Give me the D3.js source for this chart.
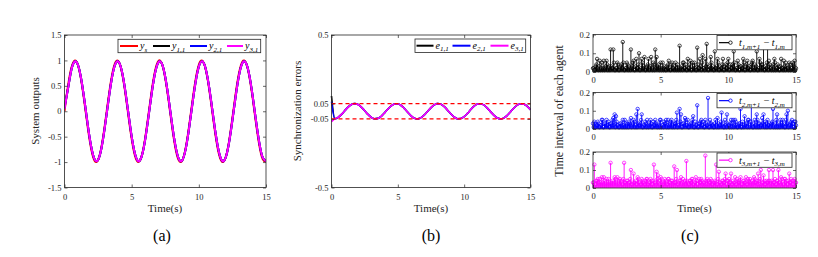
<!DOCTYPE html>
<html><head><meta charset="utf-8">
<script src="https://cdn.jsdelivr.net/npm/d3@7"></script>
<style>
body{margin:0;background:#fff}
svg{display:block}
text{font-family:"Liberation Serif","Times New Roman",serif}
</style>
</head><body>
<svg id="c" width="818" height="257"></svg>
<script>
// ---------- DATA ----------
const xTicks = [0, 5, 10, 15];
const yTicksA = [-1.5, -1, -0.5, 0, 0.5, 1, 1.5];
const yTicksB = [-0.5, -0.05, 0.05, 0.5];
const yTicksC = [0, 0.1, 0.2];
const panelLabels = ["(a)", "(b)", "(c)"];

// sample times for panels (a) and (b), every 0.25 s
const tA = d3.range(61).map(i => i * 0.25);

// (a) leader output y_s
const ys = [0, .479, .841, .997, .909, .598, .141, -.351, -.757, -.978, -.959, -.706,
  -.279, .215, .657, .938, .989, .798, .412, -.075, -.544, -.880, -1.000, -.875,
  -.537, -.066, .420, .804, .991, .935, .650, .207, -.288, -.712, -.961, -.976,
  -.751, -.342, .150, .606, .913, .996, .837, .471, -.009, -.487, -.846, -.998,
  -.906, -.591, -.132, .359, .763, .980, .956, .699, .271, -.224, -.664, -.941, -.988];
// (a) follower outputs
const y31 = [0.05, .430, .801, .976, .913, .625, .185, -.301, -.713, -.951, -.955, -.727,
  -.319, .165, .610, .905, .978, .812, .447, -.027, -.495, -.842, -.983, -.882,
  -.567, -.112, .370, .762, .967, .935, .674, .249, -.238, -.667, -.931, -.969,
  -.769, -.380, .101, .558, .878, .982, .848, .504, .038, -.438, -.806, -.978,
  -.910, -.618, -.176, .309, .719, .953, .953, .720, .311, -.174, -.617, -.909, -.978];
const y11 = [0.10].concat(y31.slice(1));
const y21 = [0.063].concat(y31.slice(1));

// (b) synchronization errors
const e31 = [-.068, -.0495, -.0401, -.0208, .0035, .0270, .0439, .0500, .0439, .0271, .0036, -.0208,
  -.0401, -.0495, -.0469, -.0329, -.0106, .0142, .0354, .0480, .0488, .0376, .0172, -.0071,
  -.0300, -.0456, -.0498, -.0419, -.0237, .0002, .0242, .0422, .0499, .0454, .0298, .0069,
  -.0178, -.0380, -.0489, -.0479, -.0352, -.0138, .0110, .0330, .0470, .0494, .0398, .0204,
  -.0040, -.0274, -.0440, -.0500, -.0437, -.0266, -.0031, .0212, .0403, .0496, .0467, .0324, .0101];
const e11 = [0.10].concat(e31.slice(1));
const e21 = [0.063].concat(e31.slice(1));
const bound = [-0.05, 0.05];

// (c) inter-event intervals; events at tC (every 0.1 s) and at tD (in between)
const tC = d3.range(151).map(i => i / 10);
const tD = d3.range(150).map(i => i / 10 + 0.05);
const h1 = [.02,.01,.03,.07,.01,.06,.02,.01,.06,.02, .06,.01,.03,.12,.02,.12,.01,.02,.05,.01,
  .02,.04,.16,.01,.02,.05,.01,.02,.12,.03, .06,.01,.07,.02,.10,.01,.07,.02,.08,.01,
  .03,.07,.02,.08,.01,.04,.12,.08,.02,.01, .05,.02,.01,.03,.01,.02,.06,.01,.04,.02,
  .01,.05,.02,.01,.14,.02,.01,.05,.02,.01, .07,.02,.06,.01,.02,.05,.01,.13,.02,.07,
  .01,.09,.02,.07,.15,.01,.03,.08,.02,.01, .11,.02,.07,.01,.03,.02,.07,.01,.04,.02,
  .07,.01,.02,.04,.11,.01,.02,.06,.01,.03, .02,.07,.01,.03,.06,.02,.01,.04,.06,.01,
  .02,.11,.01,.07,.02,.04,.17,.01,.02,.16, .06,.02,.01,.04,.07,.01,.02,.03,.01,.07,
  .02,.06,.01,.03,.02,.05,.01,.02,.04,.06, .02];
const h1b = [.02,.01,.04,.02,.03,.01,.05,.02,.01,.03, .04,.02,.01,.03,.02,.05,.01,.02,.04,.01,
  .03,.02,.05,.01,.02,.04,.03,.01,.02,.05, .01,.03,.02,.04,.01,.02,.05,.03,.01,.02,
  .04,.01,.03,.02,.05,.01,.02,.03,.04,.02, .01,.05,.02,.01,.03,.04,.02,.01,.05,.02,
  .03,.01,.04,.02,.01,.03,.05,.02,.04,.01, .02,.04,.01,.05,.03,.02,.01,.04,.02,.03,
  .05,.02,.01,.03,.04,.01,.02,.05,.03,.01, .02,.03,.05,.01,.02,.04,.01,.03,.02,.05,
  .01,.04,.02,.03,.05,.01,.02,.04,.01,.03, .02,.05,.01,.04,.02,.03,.01,.05,.02,.04,
  .03,.01,.02,.05,.04,.02,.01,.03,.05,.01, .04,.02,.03,.01,.05,.02,.04,.01,.03,.02,
  .01,.03,.05,.02,.01,.04,.02,.05,.03,.01];
const h2 = [.03,.04,.01,.02,.03,.01,.02,.05,.01,.03, .05,.02,.01,.03,.02,.06,.08,.07,.02,.01,
  .03,.02,.05,.01,.03,.02,.01,.03,.06,.02, .05,.01,.08,.11,.02,.03,.08,.01,.02,.03,
  .05,.01,.02,.03,.01,.02,.05,.02,.03,.01, .05,.02,.01,.03,.05,.02,.01,.03,.05,.02,
  .01,.03,.09,.02,.11,.08,.01,.03,.06,.02, .05,.01,.03,.02,.07,.01,.02,.13,.01,.03,
  .05,.02,.01,.05,.02,.17,.01,.03,.02,.01, .03,.02,.06,.01,.02,.09,.03,.01,.02,.08,
  .02,.01,.05,.03,.01,.05,.02,.01,.03,.11, .01,.02,.07,.03,.01,.05,.02,.15,.01,.03,
  .02,.08,.01,.03,.02,.06,.08,.01,.03,.05, .02,.01,.03,.11,.02,.01,.08,.03,.01,.02,
  .05,.03,.01,.08,.10,.02,.03,.05,.01,.04, .02];
const h2b = [.01,.03,.02,.04,.01,.02,.05,.01,.03,.02, .02,.04,.01,.03,.05,.02,.01,.04,.02,.01,
  .03,.01,.02,.05,.01,.03,.04,.02,.01,.03, .04,.02,.01,.03,.02,.05,.01,.02,.04,.01,
  .02,.03,.05,.01,.04,.02,.03,.01,.02,.05, .01,.02,.04,.03,.01,.05,.02,.04,.01,.03,
  .03,.05,.01,.02,.04,.01,.03,.02,.05,.02, .01,.02,.03,.05,.01,.04,.02,.01,.03,.04,
  .02,.04,.01,.03,.02,.01,.05,.03,.02,.01, .05,.01,.03,.02,.04,.02,.01,.05,.01,.03,
  .02,.03,.01,.05,.02,.04,.01,.02,.03,.01, .04,.01,.02,.03,.05,.01,.04,.02,.01,.05,
  .01,.05,.03,.01,.02,.03,.02,.04,.01,.02, .03,.02,.04,.01,.03,.05,.01,.02,.05,.03,
  .02,.01,.05,.03,.01,.02,.04,.03,.01,.04];
const h3 = [.03,.13,.02,.04,.03,.05,.02,.03,.06,.02, .05,.03,.02,.14,.03,.02,.06,.03,.06,.02,
  .05,.03,.02,.14,.03,.04,.02,.03,.10,.02, .08,.03,.02,.06,.03,.02,.05,.03,.02,.04,
  .05,.02,.03,.04,.02,.13,.03,.09,.07,.02, .06,.03,.02,.05,.03,.02,.05,.03,.04,.02,
  .12,.03,.10,.02,.04,.06,.03,.02,.04,.15, .03,.02,.04,.05,.02,.03,.06,.02,.04,.03,
  .05,.02,.03,.18,.02,.04,.03,.05,.02,.03, .04,.13,.02,.09,.03,.02,.04,.03,.08,.02,
  .04,.03,.08,.02,.03,.06,.02,.04,.03,.06, .02,.04,.03,.06,.02,.04,.05,.03,.02,.06,
  .03,.04,.08,.02,.10,.03,.07,.02,.04,.03, .10,.02,.04,.10,.03,.02,.04,.10,.03,.06,
  .03,.02,.05,.04,.02,.08,.03,.04,.02,.05, .03];
const h3b = [.03,.02,.04,.05,.02,.03,.06,.02,.04,.03, .02,.05,.03,.02,.04,.03,.05,.02,.03,.04,
  .04,.02,.05,.03,.02,.04,.03,.05,.02,.03, .03,.04,.02,.05,.03,.02,.04,.03,.02,.05,
  .02,.03,.05,.02,.04,.03,.02,.05,.03,.04, .05,.02,.03,.04,.02,.05,.03,.02,.04,.03,
  .03,.05,.02,.03,.04,.02,.05,.03,.02,.04, .02,.04,.03,.05,.02,.03,.04,.02,.05,.03,
  .04,.03,.02,.04,.05,.02,.03,.04,.02,.03, .03,.02,.05,.03,.02,.04,.03,.05,.02,.04,
  .05,.03,.02,.04,.03,.02,.05,.03,.04,.02, .02,.04,.03,.02,.05,.03,.02,.04,.03,.05,
  .03,.02,.04,.05,.02,.03,.04,.02,.03,.04, .04,.03,.02,.03,.05,.02,.04,.03,.02,.05,
  .02,.05,.03,.02,.04,.03,.05,.02,.04,.03];

// ---------- DRAWING ----------
const INK = "#262626";
const RED = "#ff0000", BLK = "#000000", BLU = "#0000ff", MAG = "#ff00ff";
const svg = d3.select("#c");

function styleAxis(sel, size) {
  sel.select(".domain").remove();
  sel.selectAll(".tick line").attr("stroke", INK).attr("stroke-width", 0.7);
  sel.selectAll(".tick text").attr("fill", INK).attr("font-size", size)
     .attr("font-family", '"Liberation Serif","Times New Roman",serif');
}

function frame(x, y, yt, opt) {
  const [L, R] = x.range(), [B, T] = y.range();
  const fmt = d => String(d);
  const g = svg.append("g");
  g.append("g").attr("transform", `translate(0,${B})`)
    .call(d3.axisBottom(x).tickValues(xTicks).tickSizeInner(-3).tickSizeOuter(0)
      .tickPadding(opt.xpad).tickFormat(fmt)).call(styleAxis, opt.fs);
  g.append("g").attr("transform", `translate(0,${T})`)
    .call(d3.axisTop(x).tickValues(xTicks).tickSizeInner(-3).tickSizeOuter(0).tickFormat(""))
    .call(styleAxis, opt.fs);
  g.append("g").attr("transform", `translate(${L},0)`)
    .call(d3.axisLeft(y).tickValues(yt).tickSizeInner(-3).tickSizeOuter(0)
      .tickPadding(3).tickFormat(fmt)).call(styleAxis, opt.fs);
  g.append("g").attr("transform", `translate(${R},0)`)
    .call(d3.axisRight(y).tickValues(yt).tickSizeInner(-3).tickSizeOuter(0).tickFormat(""))
    .call(styleAxis, opt.fs);
  g.append("rect").attr("x", L).attr("y", T).attr("width", R - L).attr("height", B - T)
    .attr("fill", "none").attr("stroke", INK).attr("stroke-width", 0.8);
  return g;
}

function subText(sel, parts, fs, sfs) {
  parts.forEach(([main, sub, italic]) => {
    if (main) sel.append("tspan").attr("font-size", fs).attr("font-style", italic === false ? "normal" : "italic").text(main);
    if (sub) {
      sel.append("tspan").attr("font-size", sfs).attr("font-style", "italic").attr("dy", 2.5).text(sub);
      sel.append("tspan").attr("font-size", fs).attr("dy", -2.5).text("\u200a");
    }
  });
}

function lineLegend(x0, y0, w, h, items) {
  const g = svg.append("g");
  g.append("rect").attr("x", x0).attr("y", y0).attr("width", w).attr("height", h)
    .attr("fill", "#fff").attr("stroke", INK).attr("stroke-width", 0.8);
  items.forEach(it => {
    g.append("line").attr("x1", it.lx).attr("x2", it.lx + it.len)
      .attr("y1", y0 + h / 2).attr("y2", y0 + h / 2)
      .attr("stroke", it.color).attr("stroke-width", 2);
    const t = g.append("text").attr("x", it.lx + it.len + 2).attr("y", y0 + h / 2 + 3)
      .attr("fill", "#000");
    subText(t, it.parts, 10, 7);
  });
}

function ylabel(x, yc, txt, fs) {
  svg.append("text").attr("transform", `translate(${x},${yc}) rotate(-90)`)
    .attr("text-anchor", "middle").attr("font-size", fs).attr("fill", INK).text(txt);
}
function xlabel(xc, y, txt) {
  svg.append("text").attr("x", xc).attr("y", y).attr("text-anchor", "middle")
    .attr("font-size", 11).attr("fill", INK).text(txt);
}

// ----- Panel (a)
{
  const x = d3.scaleLinear().domain([0, 15]).range([64.5, 266]);
  const y = d3.scaleLinear().domain([-1.5, 1.5]).range([187.5, 35]);
  const line = d3.line().x((d, i) => x(tA[i])).y(d => y(d)).curve(d3.curveNatural);
  svg.append("clipPath").attr("id", "clipA").append("rect")
    .attr("x", 64.5).attr("y", 35).attr("width", 201.5).attr("height", 152.5);
  const g = svg.append("g").attr("clip-path", "url(#clipA)");
  [[ys, RED], [y11, BLK], [y21, BLU], [y31, MAG]].forEach(([s, c]) => {
    g.append("path").datum(s).attr("d", line).attr("fill", "none")
      .attr("stroke", c).attr("stroke-width", 2);
  });
  frame(x, y, yTicksA, { xpad: 6, fs: 8.5 });
  lineLegend(118, 39.3, 142.7, 13.4, [
    { lx: 120, len: 18, color: RED, parts: [["y", "s"]] },
    { lx: 153, len: 17, color: BLK, parts: [["y", "1,1"]] },
    { lx: 190, len: 17, color: BLU, parts: [["y", "2,1"]] },
    { lx: 227, len: 16, color: MAG, parts: [["y", "3,1"]] }
  ]);
  ylabel(38.5, 111, "System outputs", 11);
  xlabel(165, 212, "Time(s)");
  svg.append("text").attr("x", 162).attr("y", 241).attr("text-anchor", "middle")
    .attr("font-size", 16).attr("fill", "#000").text(panelLabels[0]);
}

// ----- Panel (b)
{
  const x = d3.scaleLinear().domain([0, 15]).range([331.5, 530.5]);
  const y = d3.scaleLinear().domain([-0.5, 0.5]).range([187.5, 35]);
  const line = d3.line().x((d, i) => x(tA[i])).y(d => y(d)).curve(d3.curveMonotoneX);
  const g = svg.append("g");
  [[e11, BLK], [e21, BLU], [e31, MAG]].forEach(([s, c]) => {
    g.append("path").datum(s).attr("d", line).attr("fill", "none")
      .attr("stroke", c).attr("stroke-width", 1.6);
  });
  bound.forEach(b => {
    g.append("line").attr("x1", x(0)).attr("x2", x(15)).attr("y1", y(b)).attr("y2", y(b))
      .attr("stroke", RED).attr("stroke-width", 1.1).attr("stroke-dasharray", "4,3");
  });
  frame(x, y, yTicksB, { xpad: 6, fs: 8.5 });
  lineLegend(415, 39, 110.7, 13.4, [
    { lx: 416.5, len: 17, color: BLK, parts: [["e", "1,1"]] },
    { lx: 452.5, len: 18, color: BLU, parts: [["e", "2,1"]] },
    { lx: 490.5, len: 18, color: MAG, parts: [["e", "3,1"]] }
  ]);
  ylabel(301, 111, "Synchronization errors", 11);
  xlabel(431, 212, "Time(s)");
  svg.append("text").attr("x", 431).attr("y", 241).attr("text-anchor", "middle")
    .attr("font-size", 16).attr("fill", "#000").text(panelLabels[1]);
}

// ----- Panel (c)
{
  const x = d3.scaleLinear().domain([0, 15]).range([593, 796]);
  const subs = [
    { top: 34.5, bot: 72, h: h1, hb: h1b, color: BLK, idx: "1" },
    { top: 92.5, bot: 129, h: h2, hb: h2b, color: BLU, idx: "2" },
    { top: 152, bot: 188, h: h3, hb: h3b, color: MAG, idx: "3" }
  ];
  subs.forEach(s => {
    const y = d3.scaleLinear().domain([0, 0.2]).range([s.bot, s.top]);
    const g = svg.append("g");
    const ev = s.h.map((d, i) => [tC[i], d]).concat(s.hb.map((d, i) => [tD[i], d]));
    g.selectAll("line.stem").data(ev).join("line")
      .attr("x1", d => x(d[0])).attr("x2", d => x(d[0]))
      .attr("y1", y(0)).attr("y2", d => y(d[1]))
      .attr("stroke", s.color).attr("stroke-width", 0.9);
    g.selectAll("circle").data(ev).join("circle")
      .attr("cx", d => x(d[0])).attr("cy", d => y(d[1])).attr("r", 1.7)
      .attr("fill", "none").attr("stroke", s.color).attr("stroke-width", 0.7);
    frame(x, y, yTicksC, { xpad: 5, fs: 8.5 });
    const ly = s.top + 1;
    const lg = svg.append("g");
    lg.append("rect").attr("x", 717).attr("y", ly).attr("width", 75).attr("height", 14.3)
      .attr("fill", "#fff").attr("stroke", INK).attr("stroke-width", 0.8);
    lg.append("line").attr("x1", 719).attr("x2", 729).attr("y1", ly + 7.15).attr("y2", ly + 7.15)
      .attr("stroke", s.color).attr("stroke-width", 1.2);
    lg.append("circle").attr("cx", 730.5).attr("cy", ly + 7.15).attr("r", 1.7)
      .attr("fill", "none").attr("stroke", s.color).attr("stroke-width", 0.8);
    const t = lg.append("text").attr("x", 739).attr("y", ly + 10.5).attr("fill", "#000");
    subText(t, [["t", s.idx + ",m+1"], [" \u2212 ", null, false], ["t", s.idx + ",m"]], 10, 7);
  });
  ylabel(563, 111, "Time interval of each agent", 12);
  xlabel(694.5, 212, "Time(s)");
  svg.append("text").attr("x", 690).attr("y", 241).attr("text-anchor", "middle")
    .attr("font-size", 16).attr("fill", "#000").text(panelLabels[2]);
}
</script>
</body></html>
